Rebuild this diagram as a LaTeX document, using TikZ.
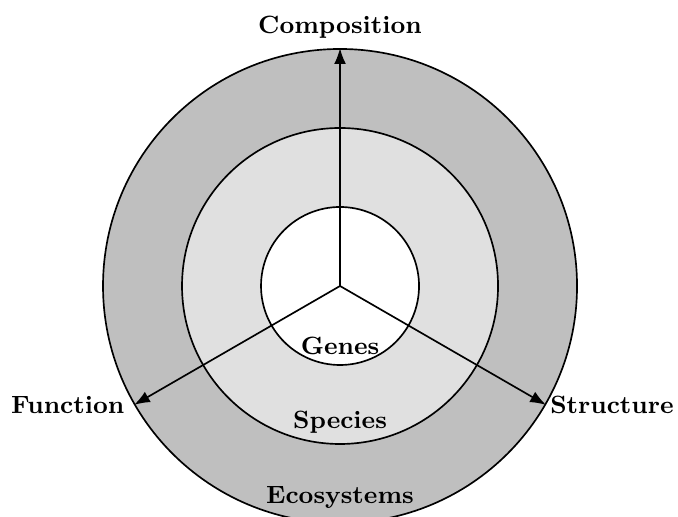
\documentclass[tikz,border=0pt]{standalone}
\usepackage{tikz}
\usetikzlibrary{arrows.meta,positioning}

\begin{document}
\begin{tikzpicture}[
  font=\fontsize{9}{11}\selectfont\bfseries,
  ring/.style={draw,circle,semithick,inner sep=0pt},
  axis/.style={-Latex,semithick}
]
\useasboundingbox (-4.304,-2.924) rectangle (4.278,3.620);
% levels of organisation
\node[ring,fill=black!25,minimum size=6cm] (eco) at (0,0) {};
\node[ring,fill=black!12,minimum size=4cm] (spec) at (0,0) {};
\node[ring,fill=white,minimum size=2cm] (gen) at (0,0) {};
\coordinate (hub) at (0,0);

% attributes
\draw[axis] (hub) -- (eco.north);
\draw[axis] (hub) -- (eco.210);
\draw[axis] (hub) -- (eco.330);
\node[anchor=south] (comp) at (eco.north) {Composition};
\node[anchor=east] (func) at (eco.210) {Function};
\node[anchor=west,xshift=-2pt] (struct) at (eco.330) {Structure};

% level labels
\node[anchor=base] (lgenes) at (0,-0.873) {Genes};
\node[anchor=base] (lspecies) at (0,-1.80) {Species};
\node[anchor=base] (leco) at (0,-2.75) {Ecosystems};
\end{tikzpicture}
\end{document}
